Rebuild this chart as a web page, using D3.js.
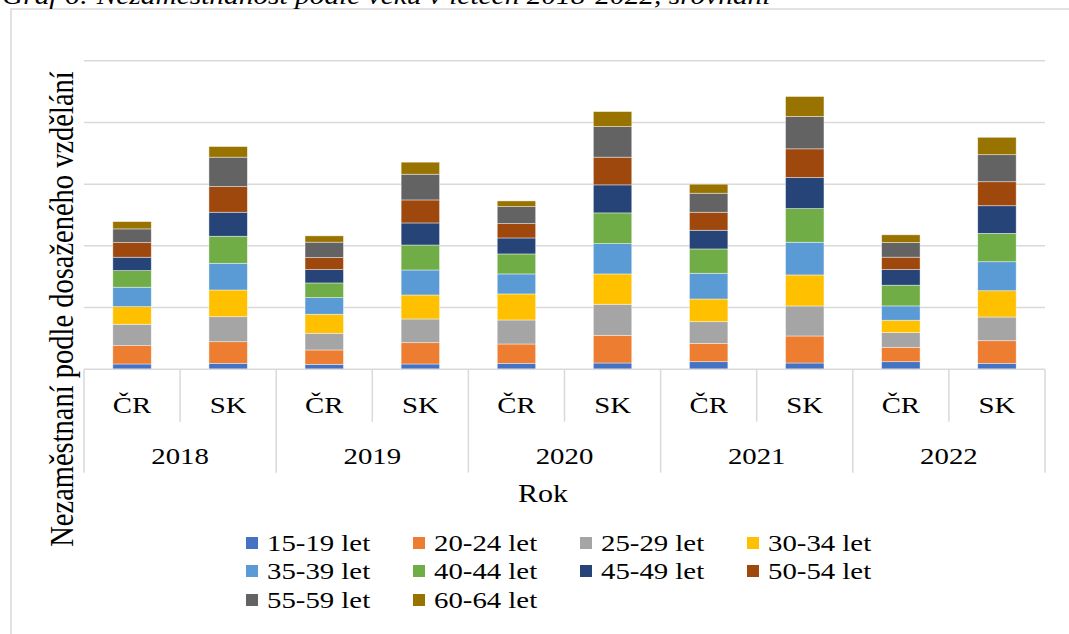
<!DOCTYPE html>
<html>
<head>
<meta charset="utf-8">
<script src="https://cdn.jsdelivr.net/npm/d3@7"></script>
<style>
  html, body { margin: 0; padding: 0; background: #fff; }
  svg { display: block; }
  svg text { font-family: "Liberation Serif", "Times New Roman", serif; }
</style>
</head>
<body>
<svg id="chart" width="1069" height="634"></svg>
<script>
// ---- Data ----
const years = ["2018", "2019", "2020", "2021", "2022"];
const countries = ["ČR", "SK"];
const ageGroups = ["15-19 let", "20-24 let", "25-29 let", "30-34 let", "35-39 let",
                   "40-44 let", "45-49 let", "50-54 let", "55-59 let", "60-64 let"];
const colors = ["#4472C4", "#ED7D31", "#A5A5A5", "#FFC000", "#5B9BD5",
                "#70AD47", "#264478", "#9E480E", "#636363", "#997300"];
// values per age group, bars ordered 2018 ČR, 2018 SK, 2019 ČR, ... 2022 SK
const v15_19 = [0.86, 0.97, 0.81, 0.86, 0.97, 1.02, 1.23, 1.02, 1.23, 0.97];
const v20_24 = [2.97, 3.50, 2.32, 3.45, 3.13, 4.49, 2.98, 4.38, 2.34, 3.66];
const v25_29 = [3.47, 4.05, 2.71, 3.84, 3.89, 5.03, 3.50, 4.86, 2.37, 3.84];
const v30_34 = [2.85, 4.33, 3.08, 3.89, 4.22, 4.91, 3.68, 5.03, 2.01, 4.26];
const v35_39 = [3.15, 4.33, 2.69, 4.05, 3.24, 4.91, 4.17, 5.30, 2.32, 4.70];
const v40_44 = [2.69, 4.38, 2.38, 4.05, 3.24, 4.98, 3.94, 5.45, 3.36, 4.59];
const v45_49 = [2.17, 3.89, 2.16, 3.57, 2.59, 4.54, 3.03, 5.03, 2.53, 4.48];
const v50_54 = [2.37, 4.15, 1.95, 3.73, 2.32, 4.49, 2.92, 4.65, 2.01, 3.89];
const v55_59 = [2.22, 4.77, 2.50, 4.17, 2.76, 4.96, 3.08, 5.24, 2.37, 4.38];
const v60_64 = [1.18, 1.72, 1.02, 1.95, 0.92, 2.43, 1.46, 3.24, 1.25, 2.82];
const seriesValues = [v15_19, v20_24, v25_29, v30_34, v35_39, v40_44, v45_49, v50_54, v55_59, v60_64];
const yTicks = [0, 10, 20, 30, 40, 50];

const titleText = "Graf 6: Nezaměstnanost podle věku v letech 2018-2022, srovnání";
const yTitle = "Nezaměstnaní podle dosaženého vzdělání";
const xTitle = "Rok";

// ---- Build table ----
const bars = [];
years.forEach(y => countries.forEach(c => bars.push({ key: y + "|" + c, year: y, country: c })));
const table = bars.map((b, i) => {
  const row = { key: b.key };
  ageGroups.forEach((g, j) => row[g] = seriesValues[j][i]);
  return row;
});
const stacked = d3.stack().keys(ageGroups)(table);

// ---- Layout ----
const svg = d3.select("#chart");
const plot = { left: 84, right: 1045, top: 60.7, bottom: 369.3 };
const grid = "#d9d9d9";
const SX = 1.2; // reference text is horizontally stretched

function stretchedText(sel, x, y, size, anchor) {
  return sel.append("text")
    .attr("transform", `translate(${x},${y}) scale(${SX},1)`)
    .attr("font-size", size).attr("fill", "#000")
    .attr("text-anchor", anchor || "start");
}

// chart frame
svg.append("rect").attr("x", 11).attr("y", 9).attr("width", 1068).attr("height", 640)
  .attr("fill", "none").attr("stroke", grid).attr("stroke-width", 1.5);

// title (clipped at top)
stretchedText(svg, 2, 4, 24.5).attr("font-style", "italic").text(titleText);

const x = d3.scaleBand().domain(bars.map(b => b.key))
  .range([plot.left, plot.right]).paddingInner(0.6).paddingOuter(0.3);
const y = d3.scaleLinear().domain([0, 50]).range([plot.bottom, plot.top]);

// gridlines
svg.append("g").selectAll("line").data(yTicks.filter(t => t > 0)).join("line")
  .attr("x1", plot.left).attr("x2", plot.right)
  .attr("y1", d => y(d)).attr("y2", d => y(d))
  .attr("stroke", grid).attr("stroke-width", 1.5);

// bars
const layers = svg.append("g").selectAll("g").data(stacked).join("g")
  .attr("fill", (d, i) => colors[i]);
layers.selectAll("rect").data(d => d).join("rect")
  .attr("x", d => x(d.data.key))
  .attr("width", x.bandwidth())
  .attr("y", d => y(d[1]))
  .attr("height", d => y(d[0]) - y(d[1]))
  .attr("stroke", "#ffffff").attr("stroke-width", 0.7).attr("stroke-opacity", 0.6);

// x axis line
svg.append("line").attr("x1", plot.left).attr("x2", plot.right)
  .attr("y1", plot.bottom).attr("y2", plot.bottom)
  .attr("stroke", grid).attr("stroke-width", 1.5);

// separators between bars (long at year boundaries, short between countries)
const bounds = d3.range(bars.length + 1).map(i => plot.left + i * (plot.right - plot.left) / bars.length);
const sepLong = bounds.filter((d, i) => i % 2 === 0);
const sepShort = bounds.filter((d, i) => i % 2 === 1);
svg.append("g").selectAll("line").data(sepLong).join("line")
  .attr("x1", d => d).attr("x2", d => d).attr("y1", plot.bottom).attr("y2", 472.7)
  .attr("stroke", grid).attr("stroke-width", 1.5);
svg.append("g").selectAll("line").data(sepShort).join("line")
  .attr("x1", d => d).attr("x2", d => d).attr("y1", plot.bottom).attr("y2", 421.7)
  .attr("stroke", grid).attr("stroke-width", 1.5);

// category labels
const catG = svg.append("g");
bars.forEach(b => {
  stretchedText(catG, x(b.key) + x.bandwidth() / 2, 413, 24, "middle").text(b.country);
});
// year labels
const yearG = svg.append("g");
years.forEach(yr => {
  stretchedText(yearG, (x(yr + "|ČR") + x(yr + "|SK") + x.bandwidth()) / 2, 464, 24, "middle").text(yr);
});

// axis titles
stretchedText(svg, 543, 502, 25, "middle").text(xTitle);
svg.append("text").attr("transform", "translate(73,309) scale(1.15,1) rotate(-90)")
  .attr("text-anchor", "middle").attr("font-size", 28.5).attr("fill", "#000").text(yTitle);

// legend
const legend = svg.append("g");
const colX = [246, 413, 580, 747];
const rowY = [543, 571, 600];
ageGroups.forEach((g, i) => {
  const cx = colX[i % 4], cy = rowY[Math.floor(i / 4)];
  legend.append("rect").attr("x", cx).attr("y", cy - 6).attr("width", 12).attr("height", 12)
    .attr("fill", colors[i]);
  stretchedText(legend, cx + 21, cy + 8, 24).text(g);
});
</script>
</body>
</html>
